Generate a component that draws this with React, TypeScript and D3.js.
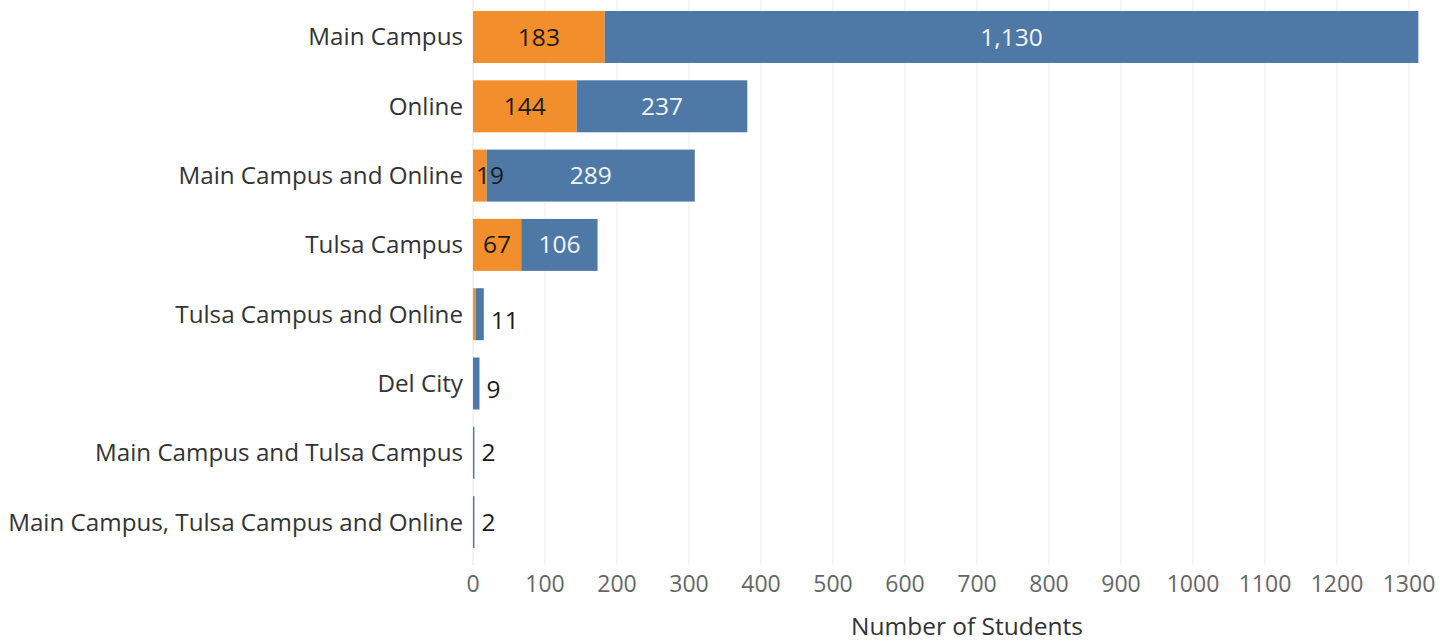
import * as d3 from "d3";
import { useRef, useEffect } from "react";

const categories = [
  "Main Campus",
  "Online",
  "Main Campus and Online",
  "Tulsa Campus",
  "Tulsa Campus and Online",
  "Del City",
  "Main Campus and Tulsa Campus",
  "Main Campus, Tulsa Campus and Online",
];
const orangeValues = [183, 144, 19, 67, 4, 0, 0, 0];
const blueValues = [1130, 237, 289, 106, 11, 9, 2, 2];
const xTicks = [0, 100, 200, 300, 400, 500, 600, 700, 800, 900, 1000, 1100, 1200, 1300];

const ORANGE = "#f28e2b";
const BLUE = "#4e79a7";
const FONT = "'Open Sans', sans-serif";

const App = () => {
  const ref = useRef<SVGSVGElement>(null);

  useEffect(() => {
    const svg = d3.select(ref.current);
    svg.selectAll("*").remove();

    const x = d3.scaleLinear().domain([0, 1300]).range([473, 1409]);
    const y = d3.scaleBand<string>()
      .domain(categories)
      .range([2.35, 556.75])
      .paddingInner(0.25)
      .paddingOuter(0.125);

    const rows = categories.map((c, i) => ({
      cat: c,
      orange: orangeValues[i],
      blue: blueValues[i],
    }));

    // gridlines
    svg.append("g")
      .selectAll("line")
      .data(xTicks)
      .join("line")
      .attr("x1", (d) => x(d))
      .attr("x2", (d) => x(d))
      .attr("y1", 0)
      .attr("y2", 565)
      .attr("stroke", (d) => (d === 0 ? "#e4e4e4" : "#efefef"))
      .attr("stroke-width", 1);

    // category labels
    svg.append("g")
      .selectAll("text")
      .data(rows)
      .join("text")
      .attr("x", 463)
      .attr("y", (d) => y(d.cat)! + y.bandwidth() / 2)
      .attr("dy", "0.35em")
      .attr("text-anchor", "end")
      .attr("font-family", FONT)
      .attr("font-size", 24.2)
      .attr("fill", "#333")
      .text((d) => d.cat);

    // orange segments
    svg.append("g")
      .selectAll("rect")
      .data(rows)
      .join("rect")
      .attr("x", x(0))
      .attr("y", (d) => y(d.cat)!)
      .attr("width", (d) => x(d.orange) - x(0))
      .attr("height", y.bandwidth())
      .attr("fill", ORANGE);

    // blue segments
    svg.append("g")
      .selectAll("rect")
      .data(rows)
      .join("rect")
      .attr("x", (d) => x(d.orange))
      .attr("y", (d) => y(d.cat)!)
      .attr("width", (d) => x(d.orange + d.blue) - x(d.orange))
      .attr("height", y.bandwidth())
      .attr("fill", BLUE);

    // orange labels (inside)
    svg.append("g")
      .selectAll("text")
      .data(rows.filter((d) => d.orange >= 10))
      .join("text")
      .attr("x", (d) => Math.max((x(0) + x(d.orange)) / 2, x(0) + 17))
      .attr("y", (d) => y(d.cat)! + y.bandwidth() / 2)
      .attr("dy", "0.35em")
      .attr("text-anchor", "middle")
      .attr("font-family", FONT)
      .attr("font-size", 24.5)
      .attr("fill", "#1a1a1a")
      .text((d) => d3.format(",")(d.orange));

    // blue labels
    const inside = rows.filter((d) => d.blue >= 50);
    const outside = rows.filter((d) => d.blue < 50);

    svg.append("g")
      .selectAll("text")
      .data(inside)
      .join("text")
      .attr("x", (d) => (x(d.orange) + x(d.orange + d.blue)) / 2)
      .attr("y", (d) => y(d.cat)! + y.bandwidth() / 2)
      .attr("dy", "0.35em")
      .attr("text-anchor", "middle")
      .attr("font-family", FONT)
      .attr("font-size", 24.5)
      .attr("fill", "#f4f4f4")
      .text((d) => d3.format(",")(d.blue));

    svg.append("g")
      .selectAll("text")
      .data(outside)
      .join("text")
      .attr("x", (d) => x(d.orange + d.blue) + 7)
      .attr("y", (d) => y(d.cat)! + y.bandwidth() / 2 + (d.blue > 5 ? 6 : 0))
      .attr("dy", "0.35em")
      .attr("text-anchor", "start")
      .attr("font-family", FONT)
      .attr("font-size", 24.5)
      .attr("fill", "#1a1a1a")
      .text((d) => d3.format(",")(d.blue));

    // x axis tick labels
    svg.append("g")
      .selectAll("text")
      .data(xTicks)
      .join("text")
      .attr("x", (d) => x(d))
      .attr("y", 584)
      .attr("dy", "0.35em")
      .attr("text-anchor", "middle")
      .attr("font-family", FONT)
      .attr("font-size", 23)
      .attr("fill", "#666")
      .text((d) => String(d));

    // axis title
    svg.append("text")
      .attr("x", 967)
      .attr("y", 626)
      .attr("dy", "0.35em")
      .attr("text-anchor", "middle")
      .attr("font-family", FONT)
      .attr("font-size", 24.5)
      .attr("fill", "#333")
      .text("Number of Students");
  }, []);

  return (
    <svg
      ref={ref}
      width={1456}
      height={643}
      style={{ position: "absolute", left: 0, top: 0, background: "#fff" }}
    />
  );
};

export default App;
